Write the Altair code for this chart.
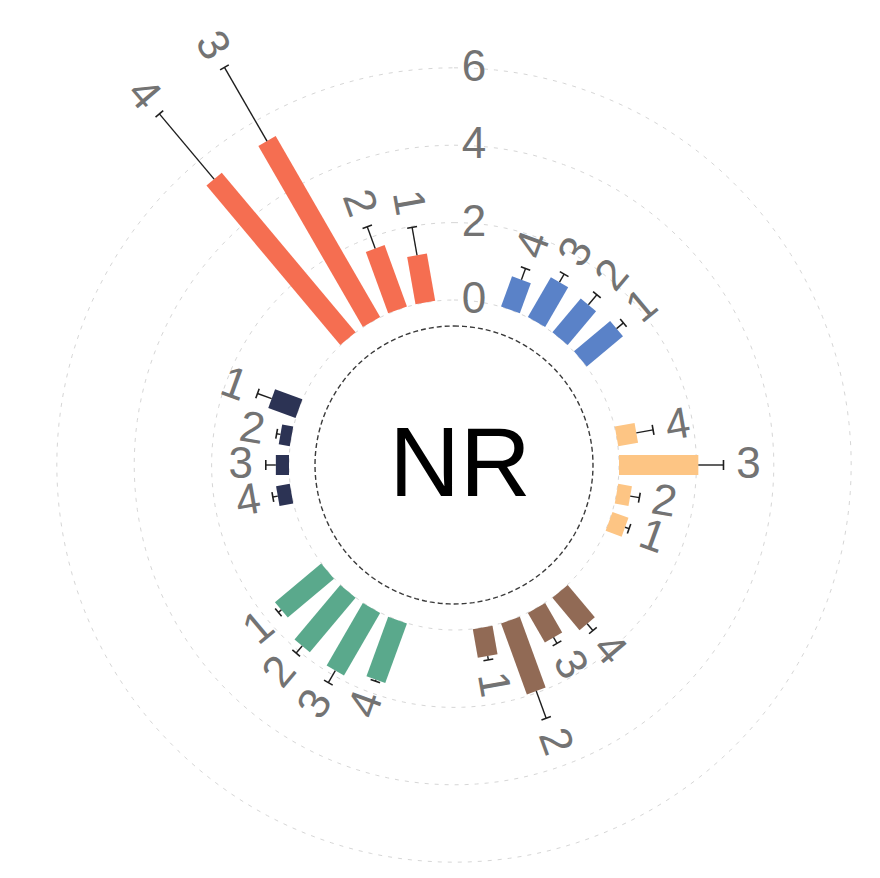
import altair as alt
import pandas as pd

# ---------------- data ----------------
GROUP_NAMES = ["g1", "g2", "g3", "g4", "g5", "g6"]
GROUP_COLORS = ["#5A82C8", "#FDC584", "#916A55", "#5AA98C", "#2C3354", "#F56E51"]
BAR_IDS = [1, 2, 3, 4]

VAL_G1 = [1.22, 1.14, 1.19, 0.83]
ERR_G1 = [0.23, 0.34, 0.24, 0.31]
VAL_G2 = [0.44, 0.36, 2.05, 0.52]
ERR_G2 = [0.11, 0.24, 0.65, 0.44]
VAL_G3 = [0.75, 1.95, 0.88, 1.09]
ERR_G3 = [0.10, 0.75, 0.18, 0.23]
VAL_G4 = [1.56, 1.84, 1.87, 1.64]
ERR_G4 = [0.10, 0.24, 0.36, 0.04]
VAL_G5 = [0.75, 0.29, 0.34, 0.36]
ERR_G5 = [0.39, 0.10, 0.26, 0.13]
VAL_G6 = [1.24, 1.69, 5.40, 5.38]
ERR_G6 = [0.73, 0.60, 2.20, 2.20]

GRID_TICKS = [0, 2, 4, 6]
CENTER_LABEL = "NR"

# ---------------- layout constants ----------------
W, H = 862, 860
PX = 38.7                # pixels per value unit
CX, CY = 446, 457        # centre of the circle inside the plot area
B = 165 / PX             # radial offset of value 0
INNER_R = 139 / PX       # dashed inner circle
CAP_HALF = 5 / PX
LABEL_GAP = 25 / PX
N_SLOTS = 36

X_DOM = [-CX / PX, (W - CX) / PX]
Y_DOM = [-(H - CY) / PX, CY / PX]
xs = alt.Scale(domain=X_DOM, nice=False, zero=False)
ys = alt.Scale(domain=Y_DOM, nice=False, zero=False)

rows = []
all_vals = [VAL_G1, VAL_G2, VAL_G3, VAL_G4, VAL_G5, VAL_G6]
all_errs = [ERR_G1, ERR_G2, ERR_G3, ERR_G4, ERR_G5, ERR_G6]
for gi, g in enumerate(GROUP_NAMES):
    for k, v, e in zip(BAR_IDS, all_vals[gi], all_errs[gi]):
        rows.append({"group": g, "bar": str(k), "value": v, "err": e,
                     "slot": gi * 6 + 2 + (4 - k)})
df = pd.DataFrame(rows)

def X(f):
    return alt.X(f + ":Q", scale=xs, axis=None)

def Y(f):
    return alt.Y(f + ":Q", scale=ys, axis=None)

base = alt.Chart(df).transform_calculate(
    deg=f"datum.slot * 360 / {N_SLOTS}",
).transform_calculate(
    th="datum.deg * PI / 180",
).transform_calculate(
    r0=f"{B}",
    r1=f"{B} + datum.value",
    re=f"{B} + datum.value + datum.err",
    rl=f"{B} + datum.value + datum.err + {LABEL_GAP}",
).transform_calculate(
    x0="datum.r0 * sin(datum.th)", y0="datum.r0 * cos(datum.th)",
    x1="datum.r1 * sin(datum.th)", y1="datum.r1 * cos(datum.th)",
    xe="datum.re * sin(datum.th)", ye="datum.re * cos(datum.th)",
    xl="datum.rl * sin(datum.th)", yl="datum.rl * cos(datum.th)",
    xc1=f"datum.re * sin(datum.th) + {CAP_HALF} * cos(datum.th)",
    yc1=f"datum.re * cos(datum.th) - {CAP_HALF} * sin(datum.th)",
    xc2=f"datum.re * sin(datum.th) - {CAP_HALF} * cos(datum.th)",
    yc2=f"datum.re * cos(datum.th) + {CAP_HALF} * sin(datum.th)",
    ang="datum.deg < 180 ? (datum.deg - 90 + 360) % 360 : (datum.deg - 270 + 360) % 360",
)

# grid circles
grid = alt.Chart(pd.DataFrame({"tick": GRID_TICKS})).transform_calculate(
    a="sequence(0, 361, 2)"
).transform_flatten(["a"]).transform_calculate(
    r=f"{B} + datum.tick",
).transform_calculate(
    x="datum.r * sin(datum.a * PI / 180)",
    y="datum.r * cos(datum.a * PI / 180)",
).mark_line(color="#d6d6d6", strokeWidth=1, strokeDash=[4, 6]).encode(
    x=X("x"), y=Y("y"), detail="tick:N", order="a:Q"
)

inner = alt.Chart(pd.DataFrame({"r": [INNER_R]})).transform_calculate(
    a="sequence(0, 361, 2)"
).transform_flatten(["a"]).transform_calculate(
    x="datum.r * sin(datum.a * PI / 180)",
    y="datum.r * cos(datum.a * PI / 180)",
).mark_line(color="#3a3a3a", strokeWidth=1.4, strokeDash=[5, 3]).encode(
    x=X("x"), y=Y("y"), order="a:Q"
)

bars = base.mark_rule(strokeWidth=20, strokeCap="butt").encode(
    x=X("x0"), y=Y("y0"), x2="x1:Q", y2="y1:Q",
    color=alt.Color("group:N", scale=alt.Scale(domain=GROUP_NAMES, range=GROUP_COLORS), legend=None),
)

errs = base.mark_rule(color="#1e1e1e", strokeWidth=1.4).encode(
    x=X("x1"), y=Y("y1"), x2="xe:Q", y2="ye:Q"
)

caps = base.mark_rule(color="#1e1e1e", strokeWidth=1.6).encode(
    x=X("xc1"), y=Y("yc1"), x2="xc2:Q", y2="yc2:Q"
)

labels = base.mark_text(font="Liberation Sans", fontSize=44, color="#737373",
                        align="center", baseline="middle").encode(
    x=X("xl"), y=Y("yl"), text="bar:N", angle=alt.Angle("ang:Q", scale=None)
)

ticks = alt.Chart(pd.DataFrame({"tick": GRID_TICKS})).transform_calculate(
    x="0", y=f"{B} + datum.tick", lab="'' + datum.tick"
).mark_text(font="Liberation Sans", fontSize=44, color="#737373",
            align="center", baseline="middle", dx=20).encode(
    x=X("x"), y=Y("y"), text="lab:N"
)

center = alt.Chart(pd.DataFrame({"t": [CENTER_LABEL], "x": [0.0], "y": [0.0]})).mark_text(
    font="Liberation Sans", fontSize=98, color="#000000", align="center", baseline="middle", dx=6, dy=2
).encode(x=X("x"), y=Y("y"), text="t:N")

chart = alt.layer(grid, inner, bars, errs, caps, labels, ticks, center).properties(
    width=W, height=H, padding=0, autosize="none"
).configure_view(stroke=None)

chart.save("out.html", embed_options={"renderer": "svg", "actions": False})
